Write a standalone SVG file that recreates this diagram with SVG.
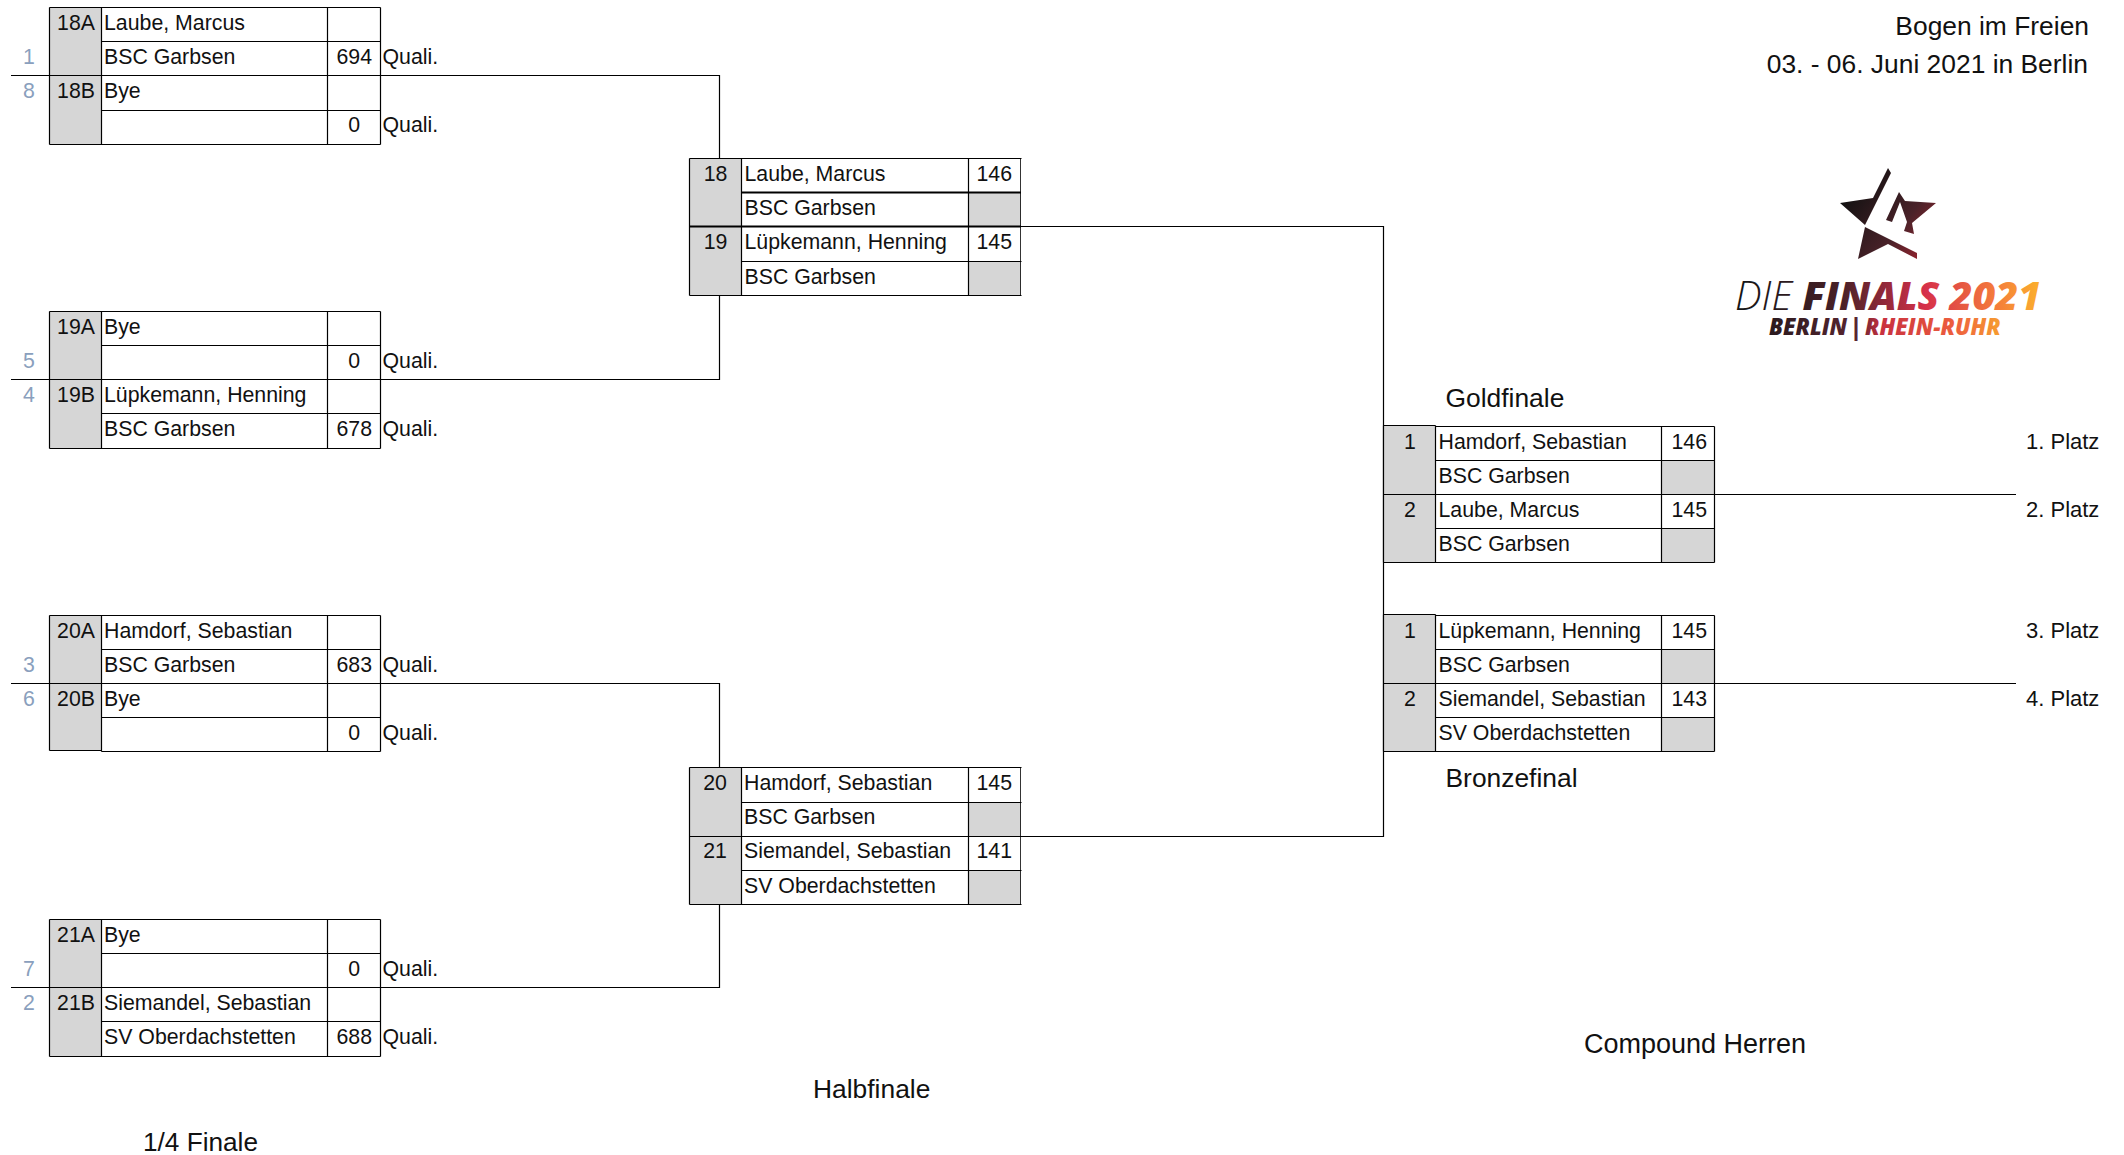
<svg xmlns="http://www.w3.org/2000/svg" width="2124" height="1155" viewBox="0 0 2124 1155">
<defs>
<style>
text{font-family:"Liberation Sans",Arial,sans-serif;font-size:21.3px;fill:#111}
.l{stroke:#000;stroke-width:1.2;fill:none}
.h{stroke:#000;stroke-width:2;fill:none}
.e{stroke:#000;stroke-width:.8;fill:none}
.g{fill:#d6d6d6}
.s{fill:#8a9fbd}
.m{text-anchor:middle}
.r{text-anchor:end}
.t{font-size:26.4px}
.p{font-size:22px}
</style>
<linearGradient id="lg" gradientUnits="userSpaceOnUse" x1="1737" y1="0" x2="2040" y2="0"><stop offset="0" stop-color="#151515"/><stop offset=".35" stop-color="#4a2128"/><stop offset=".62" stop-color="#d6304a"/><stop offset=".85" stop-color="#f47a3c"/><stop offset="1" stop-color="#fbb02d"/></linearGradient>
<linearGradient id="lg2" gradientUnits="userSpaceOnUse" x1="1770" y1="0" x2="2002" y2="0"><stop offset="0" stop-color="#2a1a1e"/><stop offset=".38" stop-color="#5a2530"/><stop offset=".48" stop-color="#c8303f"/><stop offset=".8" stop-color="#ee5f3e"/><stop offset="1" stop-color="#f7a030"/></linearGradient>
<linearGradient id="sg" gradientUnits="userSpaceOnUse" x1="1845" y1="195" x2="1930" y2="260"><stop offset="0" stop-color="#111"/><stop offset=".6" stop-color="#4a2229"/><stop offset="1" stop-color="#a3232f"/></linearGradient>
</defs>
<rect width="2124" height="1155" fill="#fff"/>
<g id="connectors" class="l">
<path d="M11 75.500H719.500V158"/>
<path d="M11 379.500H719.500V295"/>
<path d="M11 683.500H719.500V767"/>
<path d="M11 987.500H719.500V904"/>
<path d="M1020 226.500H1383.500V836.500H1021"/>
<path d="M1714 494.500H2016"/>
<path d="M1714 683.500H2016"/>
</g>
<g id="m18a"><rect class="g" x="49" y="7" width="52" height="137"/><path class="l" transform="translate(.5 .5)" d="M49 7H380M101 41H380M49 75H380M101 110H380M49 144H380M49 7V144M101 7V144M327 7V144M380 7V144"/>
<text class="r" x="95" y="29.500">18A</text><text x="104" y="29.500">Laube, Marcus</text><text x="104" y="64">BSC Garbsen</text><text class="r" x="372" y="64">694</text><text x="382.500" y="64">Quali.</text><text class="r" x="95" y="98">18B</text><text x="104" y="98">Bye</text><text class="r" x="360" y="132">0</text><text x="382.500" y="132">Quali.</text><text class="s m" x="29" y="64">1</text><text class="s m" x="29" y="98">8</text></g>
<g id="m19a"><rect class="g" x="49" y="311" width="52" height="137"/><path class="l" transform="translate(.5 .5)" d="M49 311H380M101 345H380M49 379H380M101 413H380M49 448H380M49 311V448M101 311V448M327 311V448M380 311V448"/>
<text class="r" x="95" y="333.500">19A</text><text x="104" y="333.500">Bye</text><text class="r" x="360" y="368">0</text><text x="382.500" y="368">Quali.</text><text class="r" x="95" y="402">19B</text><text x="104" y="402">Lüpkemann, Henning</text><text x="104" y="436">BSC Garbsen</text><text class="r" x="372" y="436">678</text><text x="382.500" y="436">Quali.</text><text class="s m" x="29" y="368">5</text><text class="s m" x="29" y="402">4</text></g>
<g id="m20a"><rect class="g" x="49" y="615" width="52" height="136"/><path class="l" transform="translate(.5 .5)" d="M49 615H380M101 649H380M49 683H380M101 717H380M49 750H101M101 751H380M49 615V750M101 615V751M327 615V751M380 615V751"/>
<text class="r" x="95" y="638">20A</text><text x="104" y="638">Hamdorf, Sebastian</text><text x="104" y="672">BSC Garbsen</text><text class="r" x="372" y="672">683</text><text x="382.500" y="672">Quali.</text><text class="r" x="95" y="706">20B</text><text x="104" y="706">Bye</text><text class="r" x="360" y="740">0</text><text x="382.500" y="740">Quali.</text><text class="s m" x="29" y="672">3</text><text class="s m" x="29" y="706">6</text></g>
<g id="m21a"><rect class="g" x="49" y="919" width="52" height="137"/><path class="l" transform="translate(.5 .5)" d="M49 919H380M101 953H380M49 987H380M101 1021H380M49 1056H380M49 919V1056M101 919V1056M327 919V1056M380 919V1056"/>
<text class="r" x="95" y="942">21A</text><text x="104" y="942">Bye</text><text class="r" x="360" y="976">0</text><text x="382.500" y="976">Quali.</text><text class="r" x="95" y="1010">21B</text><text x="104" y="1010">Siemandel, Sebastian</text><text x="104" y="1044">SV Oberdachstetten</text><text class="r" x="372" y="1044">688</text><text x="382.500" y="1044">Quali.</text><text class="s m" x="29" y="976">7</text><text class="s m" x="29" y="1010">2</text></g>
<g id="sf1"><rect class="g" x="689" y="158" width="52" height="137"/><rect class="g" x="968" y="192" width="53" height="34"/><rect class="g" x="968" y="261" width="53" height="34"/><path class="l" transform="translate(.5 .5)" d="M689 158H1021M741 261H1021M689 295H1021M689 158V295M741 158V295M968 158V295"/><path class="h" d="M741 192.500H1021M689 226.500H1021"/><path class="e" d="M1020.500 158V295"/>
<text class="m" x="715.500" y="181">18</text><text x="744.500" y="181">Laube, Marcus</text><text class="r" x="1012" y="181">146</text><text x="744.500" y="215">BSC Garbsen</text><text class="m" x="715.500" y="249">19</text><text x="744.500" y="249">Lüpkemann, Henning</text><text class="r" x="1012" y="249">145</text><text x="744.500" y="284">BSC Garbsen</text></g>
<g id="sf2"><rect class="g" x="689" y="767" width="52" height="137"/><rect class="g" x="968" y="802" width="53" height="34"/><rect class="g" x="968" y="870" width="53" height="34"/><path class="l" transform="translate(.5 .5)" d="M689 767H1021M741 802H1021M689 836H1021M741 870H1021M689 904H1021M689 767V904M741 767V904M968 767V904"/><path class="e" d="M1020.500 767V904"/>
<text class="m" x="715" y="790">20</text><text x="744" y="790">Hamdorf, Sebastian</text><text class="r" x="1012" y="790">145</text><text x="744" y="824">BSC Garbsen</text><text class="m" x="715" y="858">21</text><text x="744" y="858">Siemandel, Sebastian</text><text class="r" x="1012" y="858">141</text><text x="744" y="893">SV Oberdachstetten</text></g>
<g id="gold"><rect class="g" x="1383" y="426" width="52" height="136"/><rect class="g" x="1661" y="460" width="53" height="34"/><rect class="g" x="1661" y="528" width="53" height="34"/><path class="l" transform="translate(.5 .5)" d="M1383 425H1435M1435 426H1714M1435 460H1714M1383 494H1714M1435 528H1714M1383 562H1714M1383 425V562M1435 425V562M1661 426V562M1714 426V562"/>
<text class="m" x="1410" y="449">1</text><text x="1438.500" y="449">Hamdorf, Sebastian</text><text class="r" x="1707" y="449">146</text><text x="1438.500" y="483">BSC Garbsen</text><text class="m" x="1410" y="517">2</text><text x="1438.500" y="517">Laube, Marcus</text><text class="r" x="1707" y="517">145</text><text x="1438.500" y="551">BSC Garbsen</text></g>
<g id="bronze"><rect class="g" x="1383" y="615" width="52" height="136"/><rect class="g" x="1661" y="649" width="53" height="34"/><rect class="g" x="1661" y="717" width="53" height="34"/><path class="l" transform="translate(.5 .5)" d="M1383 614H1435M1435 615H1714M1435 649H1714M1383 683H1714M1435 717H1714M1383 751H1714M1383 614V751M1435 614V751M1661 615V751M1714 615V751"/>
<text class="m" x="1410" y="638">1</text><text x="1438.500" y="638">Lüpkemann, Henning</text><text class="r" x="1707" y="638">145</text><text x="1438.500" y="672">BSC Garbsen</text><text class="m" x="1410" y="706">2</text><text x="1438.500" y="706">Siemandel, Sebastian</text><text class="r" x="1707" y="706">143</text><text x="1438.500" y="740">SV Oberdachstetten</text></g>
<g id="labels">
<text class="r t" x="2089" y="35">Bogen im Freien</text><text class="r t" x="2088" y="73">03. - 06. Juni 2021 in Berlin</text>
<text class="t" x="1445.500" y="407">Goldfinale</text><text class="t" x="1445.500" y="787">Bronzefinal</text><text class="t" x="1584" y="1053" style="font-size:27px">Compound Herren</text><text class="t" x="813" y="1098">Halbfinale</text><text class="t" x="143" y="1151" style="font-size:26.2px">1/4 Finale</text>
<text class="p" x="2026" y="449">1. Platz</text><text class="p" x="2026" y="517">2. Platz</text><text class="p" x="2026" y="638">3. Platz</text><text class="p" x="2026" y="706">4. Platz</text>
</g>
<g id="logo">
<path fill="url(#sg)" d="M1888 168L1891 173L1865 225L1840 203L1873 198ZM1865 227L1917 253L1917 259L1888 244L1858 259ZM1899 192L1905 201L1936 203L1912 223L1914 234L1904 231L1907 222L1900 202L1892 222L1886 220Z"/>
<text x="1735" y="310" style="font-family:'Open Sans',sans-serif;font-size:39.500px;font-style:italic;font-weight:300;fill:url(#lg)">DIE <tspan style="font-weight:800">FINALS 2021</tspan></text>
<text x="1769" y="335" style="font-family:'Open Sans',sans-serif;font-size:22.200px;font-style:italic;font-weight:800;word-spacing:-3px;fill:url(#lg2)">BERLIN | RHEIN-RUHR</text>
</g>
</svg>
